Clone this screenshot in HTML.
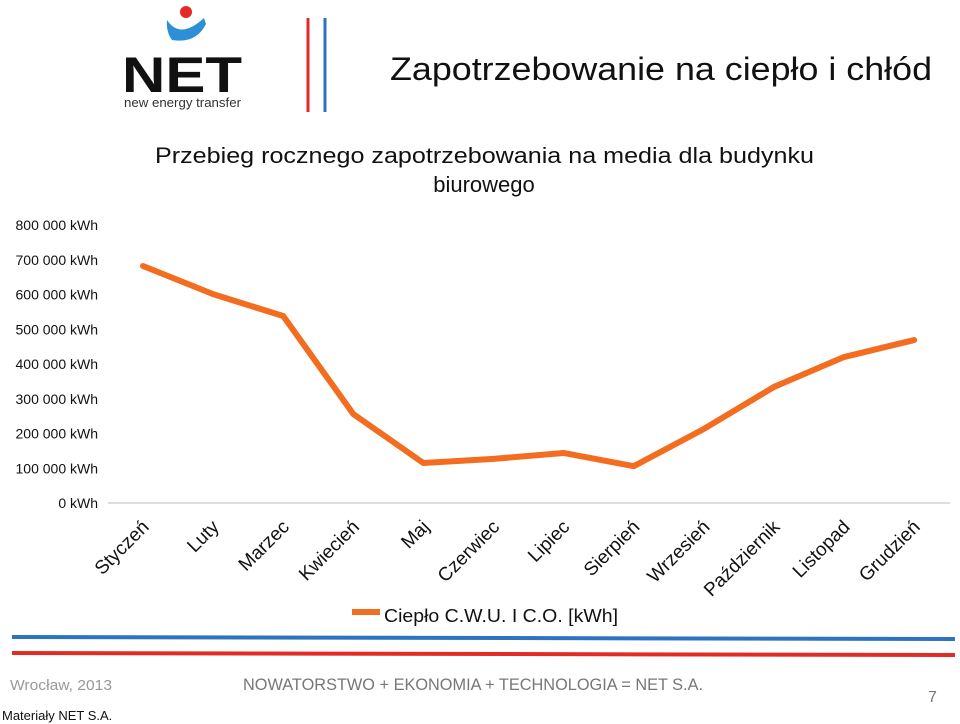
<!DOCTYPE html>
<html><head><meta charset="utf-8"><style>
body{margin:0;width:960px;height:724px;background:#fff;overflow:hidden;position:relative;font-family:"Liberation Sans",sans-serif}
</style></head><body>
<svg width="960" height="724" style="position:absolute;left:0;top:0">
<g>
<circle cx="186" cy="12" r="6" fill="#e32b26"/>
<path d="M167,20 Q180,40 204,18 L206,24 Q196,44 172,40 Q166,32 167,20Z" fill="#2d8fd5"/>
<text x="122" y="92" font-size="50" font-weight="bold" fill="#111" textLength="120" lengthAdjust="spacingAndGlyphs">NET</text>
<text x="124" y="107" font-size="13" fill="#333" textLength="117" lengthAdjust="spacingAndGlyphs">new energy transfer</text>
</g>
<line x1="308" y1="18" x2="308" y2="112" stroke="#e32b26" stroke-width="3"/>
<line x1="325" y1="18" x2="325" y2="112" stroke="#2e73c0" stroke-width="3"/>
<text x="390" y="80" font-size="32" fill="#111" textLength="542" lengthAdjust="spacingAndGlyphs">Zapotrzebowanie na ciepło i chłód</text>
<text x="155" y="163" font-size="22" fill="#111" textLength="659" lengthAdjust="spacingAndGlyphs">Przebieg rocznego zapotrzebowania na media dla budynku</text>
<text x="484" y="192" text-anchor="middle" font-size="22" fill="#111">biurowego</text>
<g id="chart"></g>
<rect x="352" y="609" width="28" height="6" fill="#f36d21"/>
<text x="384" y="622" font-size="18" fill="#111" textLength="234" lengthAdjust="spacingAndGlyphs">Ciepło C.W.U. I C.O. [kWh]</text>
<line x1="12" y1="637" x2="955" y2="639" stroke="#2e73c0" stroke-width="4"/>
<line x1="12" y1="653" x2="955" y2="655" stroke="#e32b26" stroke-width="4"/>
<text x="10" y="690" font-size="15" fill="#999" textLength="102" lengthAdjust="spacingAndGlyphs">Wrocław, 2013</text>
<text x="243" y="690" font-size="17" fill="#777" textLength="460" lengthAdjust="spacingAndGlyphs">NOWATORSTWO + EKONOMIA + TECHNOLOGIA = NET S.A.</text>
<text x="928" y="702" font-size="16" fill="#777">7</text>
<text x="2" y="720" font-size="13" fill="#111">Materiały NET S.A.</text>
</svg>
<script>
const categories=["Styczeń","Luty","Marzec","Kwiecień","Maj","Czerwiec","Lipiec","Sierpień","Wrzesień","Październik","Listopad","Grudzień"];
const heatValues=[682000,601000,538000,256000,115000,127000,144000,106000,213000,334000,420000,469000];
const yTicks=[0,100000,200000,300000,400000,500000,600000,700000,800000];
const yTickLabels=["0 kWh","100 000 kWh","200 000 kWh","300 000 kWh","400 000 kWh","500 000 kWh","600 000 kWh","700 000 kWh","800 000 kWh"];
const ns="http://www.w3.org/2000/svg";
const g=document.getElementById('chart');
const y=v=>503-v/800000*278;
const x=i=>143+i*70.1;
function mk(t,a){const e=document.createElementNS(ns,t);for(const k in a)e.setAttribute(k,a[k]);g.appendChild(e);return e;}
const ax=mk('line',{x1:108,y1:503,x2:950,y2:503,stroke:'#bbb','stroke-width':1});


yTicks.forEach((v,i)=>{const t=mk('text',{x:98,y:y(v)+5,'text-anchor':'end','font-size':14,fill:'#111'});t.textContent=yTickLabels[i];

});
categories.forEach((c,i)=>{const px=x(i)+7,py=528;const t=mk('text',{x:px,y:py,'text-anchor':'end','font-size':19,fill:'#111',transform:`rotate(-45 ${px} ${py})`});t.textContent=c;

});
const p=mk('polyline',{points:heatValues.map((v,i)=>x(i)+','+y(v)).join(' '),fill:'none',stroke:'#f36d21','stroke-width':6,'stroke-linejoin':'round','stroke-linecap':'round'});


</script>
</body></html>
